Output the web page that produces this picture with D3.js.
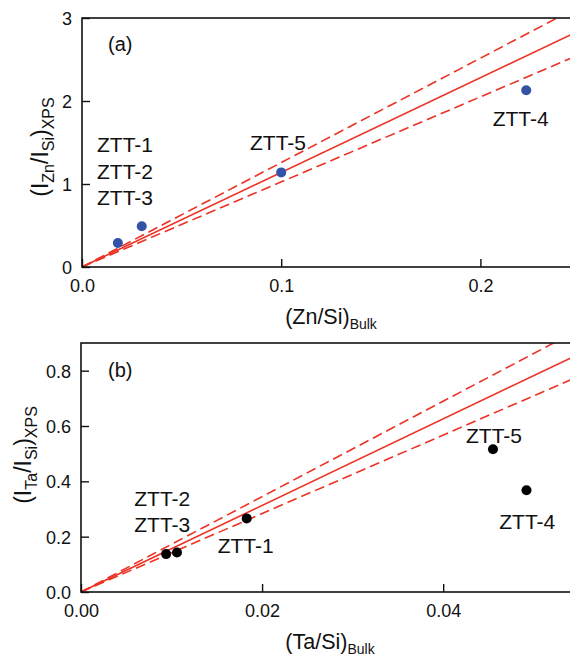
<!DOCTYPE html>
<html><head><meta charset="utf-8">
<script src="https://cdn.jsdelivr.net/npm/d3@7"></script>
<style>
html,body{margin:0;padding:0;background:#fff;overflow:hidden;}
svg text{font-family:"Liberation Sans",Arial,sans-serif;fill:#111;}
</style></head>
<body><svg id="chart" width="570" height="658"></svg>
<script>
// ---- data ----
const znBulk = [0.018, 0.030, 0.100, 0.223];
const znXps  = [0.29, 0.49, 1.14, 2.13];
const taBulk = [0.0094, 0.0106, 0.0183, 0.0455, 0.0492];
const taXps  = [0.137, 0.143, 0.266, 0.516, 0.368];
const znFitSlopes = [10.25, 11.4, 12.58];   // lower bound, fit, upper bound
const taFitSlopes = [14.18, 15.64, 17.24];
const znXTicks = [0.0, 0.1, 0.2];
const znYTicks = [0, 1, 2, 3];
const taXTicks = [0.00, 0.02, 0.04];
const taYTicks = [0.0, 0.2, 0.4, 0.6, 0.8];
const znLabels = ["ZTT-1", "ZTT-2", "ZTT-3", "ZTT-5", "ZTT-4"];
const taLabels = ["ZTT-2", "ZTT-3", "ZTT-1", "ZTT-5", "ZTT-4"];

// ---- layout ----
const svg = d3.select("#chart");
const panels = [
  { tag: "(a)", xs: znBulk, ys: znXps, slopes: znFitSlopes, xDom: [0, 0.25], yDom: [0, 3],
    xTicks: znXTicks, yTicks: znYTicks, xFmt: d3.format(".1f"), yFmt: d3.format("d"),
    left: 82, right: 580, top: 18, bottom: 267, color: "#3452a6",
    xTitle: ["(Zn/Si)", "Bulk"], yTitle: ["(I", "Zn", "/I", "Si", ")", "XPS"], yTitleX: 47.5, yTitleCenter: 147,
    labels: znLabels, labelPos: [[97,152],[97,178.5],[97,205],[250,150],[492.7,126]],
    xLabelBase: 292, xTitleBase: 324 },
  { tag: "(b)", xs: taBulk, ys: taXps, slopes: taFitSlopes, xDom: [0, 0.055], yDom: [0, 0.9],
    xTicks: taXTicks, yTicks: taYTicks, xFmt: d3.format(".2f"), yFmt: d3.format(".1f"),
    left: 81, right: 579, top: 343, bottom: 592, color: "#000",
    xTitle: ["(Ta/Si)", "Bulk"], yTitle: ["(I", "Ta", "/I", "Si", ")", "XPS"], yTitleX: 31, yTitleCenter: 455,
    labels: taLabels, labelPos: [[134.3,506],[134.3,532],[217.7,553],[466,443.3],[499.3,529.3]],
    xLabelBase: 617, xTitleBase: 649 }
];
const red = "#ec3224";

panels.forEach((p, i) => {
  const x = d3.scaleLinear().domain(p.xDom).range([p.left, p.right]);
  const y = d3.scaleLinear().domain(p.yDom).range([p.bottom, p.top]);
  const g = svg.append("g");

  const clipId = "clip" + i;
  svg.append("clipPath").attr("id", clipId).append("rect")
    .attr("x", p.left).attr("y", p.top).attr("width", p.right - p.left).attr("height", p.bottom - p.top);

  // fit lines
  const line = d3.line().x(d => x(d[0])).y(d => y(d[1]));
  p.slopes.forEach((s, k) => {
    g.append("path")
      .attr("clip-path", `url(#${clipId})`)
      .attr("d", line([[0, 0], [p.xDom[1], s * p.xDom[1]]]))
      .attr("fill", "none").attr("stroke", red).attr("stroke-width", 1.6)
      .attr("stroke-dasharray", k === 1 ? null : "10,5");
  });

  // points
  g.selectAll("circle.pt").data(p.xs.map((v, j) => [v, p.ys[j]])).enter().append("circle")
    .attr("cx", d => x(d[0])).attr("cy", d => y(d[1])).attr("r", 5)
    .attr("fill", p.color);

  // frame
  g.append("rect").attr("x", p.left).attr("y", p.top)
    .attr("width", p.right - p.left).attr("height", p.bottom - p.top)
    .attr("fill", "none").attr("stroke", "#111").attr("stroke-width", 1.6);

  // axes (inside ticks)
  const xAxis = d3.axisBottom(x).tickValues(p.xTicks).tickSize(-8).tickPadding(12).tickFormat(p.xFmt);
  const gx = g.append("g").attr("transform", `translate(0,${p.bottom})`).call(xAxis);
  const yAxis = d3.axisLeft(y).tickValues(p.yTicks).tickSize(-8).tickPadding(10).tickFormat(p.yFmt);
  const gy = g.append("g").attr("transform", `translate(${p.left},0)`).call(yAxis);
  [gx, gy].forEach(ax => {
    ax.select(".domain").remove();
    ax.selectAll(".tick line").attr("stroke", "#111").attr("stroke-width", 1.4);
    ax.selectAll(".tick text").attr("font-size", 18).attr("fill", "#111")
      .attr("font-family", '"Liberation Sans",Arial,sans-serif');
  });
  gx.selectAll(".tick text").attr("dy", null).attr("y", null)
    .attr("transform", `translate(0,${p.xLabelBase - p.bottom})`).attr("dominant-baseline", "auto");
  gy.selectAll(".tick text").attr("dy", "0.36em");

  // x title
  const xt = g.append("text").attr("x", (p.left + p.right) / 2).attr("y", p.xTitleBase)
    .attr("text-anchor", "middle").attr("font-size", 21.5);
  xt.append("tspan").text(p.xTitle[0]);
  xt.append("tspan").attr("font-size", 14).attr("dy", 5).text(p.xTitle[1]);

  // y title
  const yt = g.append("text").attr("transform", `translate(${p.yTitleX},${p.yTitleCenter}) rotate(-90)`)
    .attr("text-anchor", "middle").attr("font-size", 23);
  let sub = false;
  p.yTitle.forEach((s, k) => {
    const isSub = k % 2 === 1;
    const ts = yt.append("tspan").text(s);
    if (isSub) ts.attr("font-size", 16);
    if (isSub !== sub) { ts.attr("dy", isSub ? 6 : -6); sub = isSub; }
  });

  // panel tag
  g.append("text").attr("x", 108).attr("y", p.top + (i === 0 ? 33 : 34)).attr("font-size", 20).text(p.tag);

  // sample labels
  p.labels.forEach((t, j) => {
    g.append("text").attr("x", p.labelPos[j][0]).attr("y", p.labelPos[j][1])
      .attr("font-size", 21).text(t);
  });
});
</script></body></html>
